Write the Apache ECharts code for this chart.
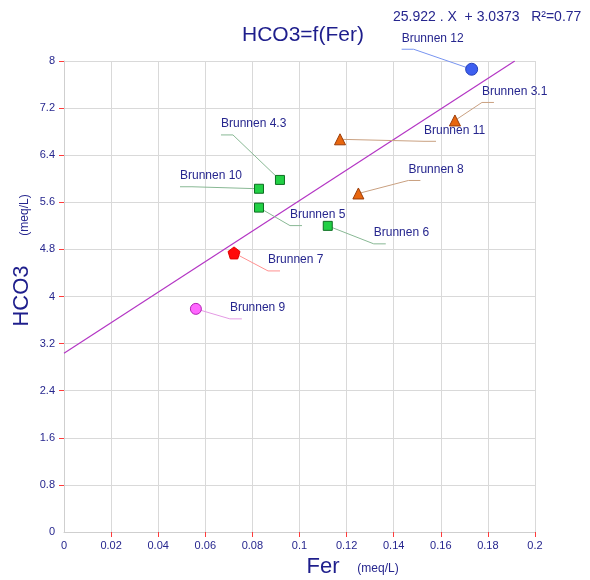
<!DOCTYPE html>
<html><head><meta charset="utf-8">
<script src="https://cdn.jsdelivr.net/npm/echarts@6/dist/echarts.min.js"></script>
<style>html,body{margin:0;padding:0;background:#fff}#c{width:590px;height:580px}</style>
</head><body><div id="c"></div>
<script>
// ---- data ----
const wellNames  = ['Brunnen 12','Brunnen 3.1','Brunnen 11','Brunnen 8','Brunnen 4.3','Brunnen 10','Brunnen 5','Brunnen 6','Brunnen 7','Brunnen 9'];
const ferValues  = [0.1731, 0.166, 0.1172, 0.125, 0.0917, 0.0828, 0.0828, 0.112, 0.0722, 0.056];
const hco3Values = [7.86, 6.99, 6.67, 5.75, 5.98, 5.83, 5.51, 5.20, 4.74, 3.79];
const wellGroups = ['blue','tri','tri','tri','sq','sq','sq','sq','red','pink'];
const trendFer   = [0, 0.1914];
const trendHco3  = [3.0373, 8.0];
const xTickMarks = [0.02, 0.04, 0.06, 0.08, 0.1, 0.12, 0.14, 0.16, 0.18, 0.2];
const yTickMarks = [0.8, 1.6, 2.4, 3.2, 4, 4.8, 5.6, 6.4, 7.2, 8];
const equationText = '25.922 . X  + 3.0373   R\u00B2=0.77';
const titleText = 'HCO3=f(Fer)';

// ---- layout / styles ----
const labelAnchors = [[-70,-20],[27,-18],[84,2],[50,-13],[-59,-45],[-79,-2],[31,18],[46,18],[34,18],[34,10]];
const groupStyle = {
  blue: {symbol:'circle', size:12, fill:'#3d5ff0', stroke:'#2440b8', leader:'#7894f0'},
  tri:  {symbol:'triangle', size:11, fill:'#e8660e', stroke:'#9a3c08', leader:'#c9a080'},
  sq:   {symbol:'rect', size:9, fill:'#22d045', stroke:'#0d6e22', leader:'#88b894'},
  red:  {symbol:'path://M0,-10L9.51,-3.09L5.88,8.09L-5.88,8.09L-9.51,-3.09Z', size:12, fill:'#ff0a0a', stroke:'#e00000', leader:'#ff9090'},
  pink: {symbol:'circle', size:11, fill:'#ff66ff', stroke:'#b422b4', leader:'#e49ae4'}
};
const FONT = '"Liberation Sans", Arial, Helvetica, sans-serif';
const TXT = '#26268e';

const chart = echarts.init(document.getElementById('c'), null, {renderer:'canvas'});

const scatterSeries = Object.keys(groupStyle).map(g => {
  const st = groupStyle[g];
  const data = [];
  wellNames.forEach((n, i) => { if (wellGroups[i] === g) data.push({name:n, value:[ferValues[i], hco3Values[i]]}); });
  return {
    type:'scatter', name:g, data, symbol:st.symbol, symbolSize:st.size, z:5,
    itemStyle:{color:st.fill, borderColor:st.stroke, borderWidth:1, opacity:1},
    emphasis:{disabled:true}, silent:true
  };
});

const labelSeries = {
  type:'custom', z:4, silent:true,
  data: wellNames.map((n, i) => [ferValues[i], hco3Values[i], i]),
  renderItem(params, api) {
    const i = api.value(2);
    const p = api.coord([api.value(0), api.value(1)]);
    const off = labelAnchors[i];
    const ax = p[0] + off[0], ay = p[1] + off[1];
    const seg = 12;
    const near = p[0] < ax ? ax : ax + seg;
    const far = near === ax ? ax + seg : ax;
    return {type:'group', children:[
      {type:'polyline', shape:{points:[p, [near, ay], [far, ay]]},
       style:{stroke:groupStyle[wellGroups[i]].leader, lineWidth:1, fill:null}},
      {type:'text', x:ax, y:ay - 11,
       style:{text:wellNames[i], fill:TXT, fontSize:12, fontFamily:FONT, align:'left', verticalAlign:'middle'}}
    ]};
  }
};

const axisCommon = {
  type:'value',
  axisLine:{show:true, onZero:false, lineStyle:{color:'#cfcfcf', width:1}},
  axisLabel:{color:TXT, fontSize:11, fontFamily:FONT},
  splitLine:{show:true, lineStyle:{color:'#d9d9d9', width:1}}
};

chart.setOption({
  animation:false,
  textStyle:{fontFamily:FONT},
  title:{text:titleText, left:237, top:20, textStyle:{color:'#1e1e8c', fontSize:21, fontWeight:'normal', fontFamily:FONT}},
  grid:{left:64, right:55, top:61, bottom:48},
  xAxis:Object.assign({}, axisCommon, {min:0, max:0.2, interval:0.02,
    axisTick:{show:true, length:5, customValues:xTickMarks, lineStyle:{color:'#ff3b3b', width:1}},
    axisLabel:Object.assign({}, axisCommon.axisLabel, {margin:8})}),
  yAxis:Object.assign({}, axisCommon, {min:0, max:8, interval:0.8,
    axisTick:{show:true, length:5, customValues:yTickMarks, lineStyle:{color:'#ff3b3b', width:1}},
    axisLabel:Object.assign({}, axisCommon.axisLabel, {margin:9})}),
  graphic:[
    {type:'text', left:393, top:10, style:{text:equationText, fill:TXT, fontSize:14, fontFamily:FONT}},
    {type:'text', x:22, y:296, rotation:Math.PI/2, style:{text:'HCO3', fill:'#1e1e8c', fontSize:22, fontFamily:FONT, align:'center', verticalAlign:'middle'}},
    {type:'text', x:25, y:215, rotation:Math.PI/2, style:{text:'(meq/L)', fill:TXT, fontSize:12, fontFamily:FONT, align:'center', verticalAlign:'middle'}},
    {type:'text', x:323, y:567, style:{text:'Fer', fill:'#1e1e8c', fontSize:22, fontFamily:FONT, align:'center', verticalAlign:'middle'}},
    {type:'text', x:378, y:569, style:{text:'(meq/L)', fill:TXT, fontSize:12, fontFamily:FONT, align:'center', verticalAlign:'middle'}}
  ],
  series:[
    {type:'line', z:3, silent:true, symbol:'none', data:trendFer.map((x, i) => [x, trendHco3[i]]),
     lineStyle:{color:'#b436c4', width:1.2}},
    labelSeries
  ].concat(scatterSeries)
});
</script>
</body></html>
